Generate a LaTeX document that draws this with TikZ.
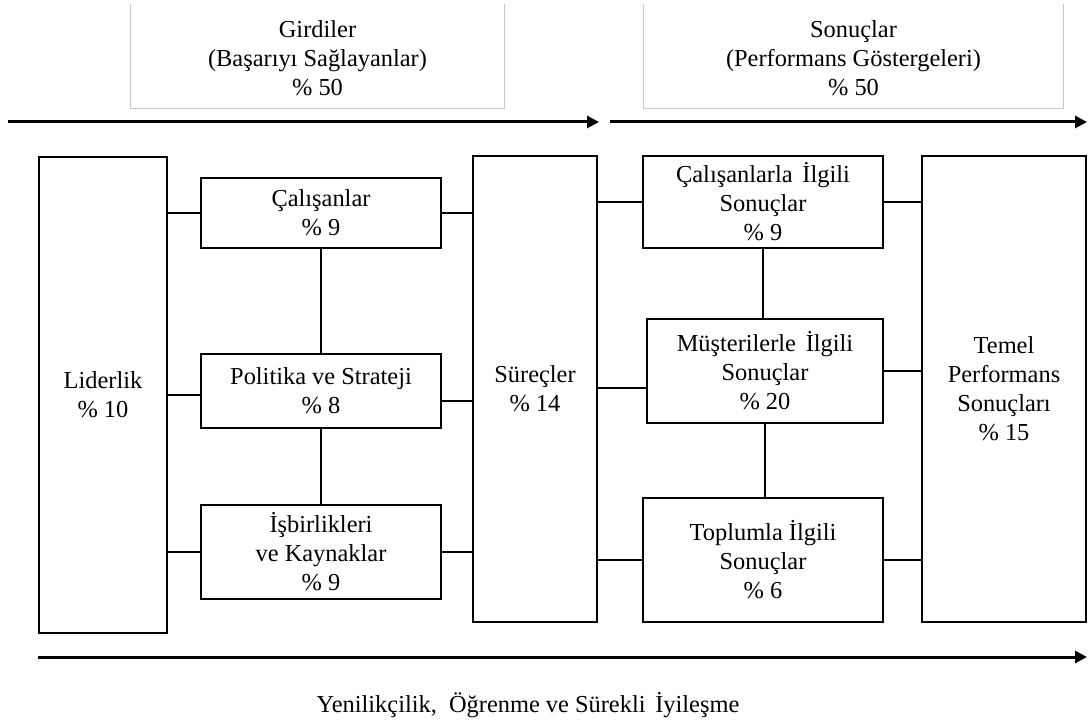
\documentclass[tikz,border=0pt]{standalone}
\usepackage{fontspec}
\setmainfont{Liberation Serif}
\usetikzlibrary{arrows.meta, positioning}

\begin{document}
\begin{tikzpicture}[x=0.5pt,y=-0.5pt,
    box/.style={draw, line width=1pt, align=center, inner sep=1pt,
                font=\fontsize{12.2pt}{14.5pt}\selectfont},
    head/.style={align=center, inner sep=1pt, font=\fontsize{12.2pt}{14.5pt}\selectfont},
    frame/.style={draw=gray!45, line width=0.5pt},
    link/.style={line width=1pt},
    flow/.style={line width=1.5pt, -{Triangle[length=6pt,width=6pt]}}]
    \useasboundingbox (0,0) rectangle (1088,722);
    % upper headings
    \node[head, minimum width=186.5pt, minimum height=50pt] (gir) at (317.5,58)
        {Girdiler\\(Başarıyı Sağlayanlar)\\\% 50};
    \node[head, minimum width=209.5pt, minimum height=50pt] (son) at (853.5,58)
        {Sonuçlar\\(Performans Göstergeleri)\\\% 50};
    \draw[frame] (gir.west |- 0,4) -- (gir.south west) -- (gir.south east) -- (gir.east |- 0,4);
    \draw[frame] (son.west |- 0,4) -- (son.south west) -- (son.south east) -- (son.east |- 0,4);
    \coordinate (a1s) at (8,122);
    \coordinate (a1e) at (599,122);
    \coordinate (a2s) at (610,122);
    \coordinate (a2e) at (1087,122);
    \draw[flow] (a1s) -- (a1e);
    \draw[flow] (a2s) -- (a2e);
    % enablers
    \node[box, minimum width=64pt, minimum height=238pt] (lid) at (103,395) {Liderlik\\\% 10};
    \node[box, minimum width=120pt, minimum height=35pt] (cal) at (321,213) {Çalışanlar\\\% 9};
    \node[box, minimum width=120pt, minimum height=37pt] (pol) at (321,391) {Politika ve Strateji\\\% 8};
    \node[box, minimum width=120pt, minimum height=47pt] (isb) at (321,552) {İşbirlikleri\\ve Kaynaklar\\\% 9};
    \node[box, minimum width=62pt, minimum height=233pt] (sur) at (535,389) {Süreçler\\\% 14};
    % results
    \node[box, minimum width=120pt, minimum height=46pt] (cil) at (763,202) {Çalışanlarla\hspace{0.15em} İlgili\\Sonuçlar\\\% 9};
    \node[box, minimum width=118pt, minimum height=52pt] (mus) at (765,371) {Müşterilerle\hspace{0.15em} İlgili\\Sonuçlar\\\% 20};
    \node[box, minimum width=120pt, minimum height=62pt] (tpl) at (763,560) {Toplumla İlgili\\Sonuçlar\\\% 6};
    \node[box, minimum width=82pt, minimum height=233pt] (tem) at (1004,389) {Temel\\Performans\\Sonuçları\\\% 15};
    % connectors
    \coordinate (pl) at ([yshift=-2pt]pol.west);
    \coordinate (pr) at ([yshift=-5pt]pol.east);
    \coordinate (ml) at ([yshift=-8.5pt]mus.west);
    \draw[link] (cal.west) -- (cal.west -| lid.east);
    \draw[link] (pl) -- (pl -| lid.east);
    \draw[link] (isb.west) -- (isb.west -| lid.east);
    \draw[link] (cal.east) -- (cal.east -| sur.west);
    \draw[link] (pr) -- (pr -| sur.west);
    \draw[link] (isb.east) -- (isb.east -| sur.west);
    \draw[link] (cal) -- (pol);
    \draw[link] (pol) -- (isb);
    \draw[link] (cil.west) -- (cil.west -| sur.east);
    \draw[link] (ml) -- (ml -| sur.east);
    \draw[link] (tpl.west) -- (tpl.west -| sur.east);
    \draw[link] (cil.east) -- (cil.east -| tem.west);
    \draw[link] (mus.east) -- (mus.east -| tem.west);
    \draw[link] (tpl.east) -- (tpl.east -| tem.west);
    \draw[link] (cil.south) -- (cil.south |- mus.north);
    \draw[link] (mus.south) -- (mus.south |- tpl.north);
    % bottom arrow
    \coordinate (a3s) at (38,657);
    \coordinate (a3e) at (1087,657);
    \draw[flow] (a3s) -- (a3e);
    \node[head] (yen) at (528,705) {Yenilikçilik,\ \ Öğrenme ve Sürekli\hspace{0.15em} İyileşme};
\end{tikzpicture}
\end{document}
